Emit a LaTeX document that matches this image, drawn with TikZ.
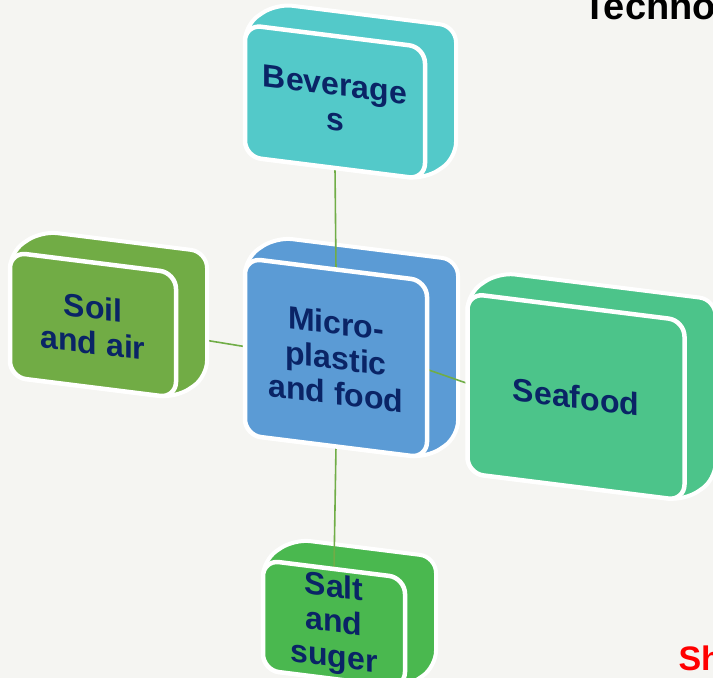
\documentclass[tikz,border=0pt]{standalone}
\usepackage{fontspec}
\setmainfont{Liberation Sans}
\usetikzlibrary{calc,positioning}
\definecolor{lettercolor}{rgb}{0.04,0.14,0.40}
\definecolor{bevcolor}{HTML}{53C9C9}
\definecolor{soilcolor}{HTML}{71AC45}
\definecolor{microcolor}{HTML}{5B9BD5}
\definecolor{seacolor}{HTML}{4CC48A}
\definecolor{saltcolor}{HTML}{4AB84F}
\definecolor{linkcolor}{HTML}{70AD47}
\definecolor{paper}{HTML}{F5F5F2}
\pgfdeclarelayer{backdrop}
\pgfsetlayers{backdrop,main}
\tikzset{
	face/.style={
		rectangle,
		rounded corners=16pt,
		draw=white,
		line width=4.5pt,
		inner sep=0pt,
		outer sep=0pt,
		text=lettercolor,
		font=\bfseries\fontsize{32}{35}\selectfont,
		align=center,
		yslant=-0.125,
		transform shape
	},
	hull/.style={
		draw=white,
		line width=4pt,
		rounded corners=16pt
	},
	link/.style={
		draw=linkcolor,
		line width=1.6pt
	},
}

\begin{document}
\begin{tikzpicture}[x=1pt,y=1pt]
\useasboundingbox (0,0) rectangle (713,-678);
% front faces
\node[face,fill=microcolor,minimum width=182pt,minimum height=177pt] (micro) at (336,-358) {Micro-\\plastic\\and food};
\node[face,fill=bevcolor,minimum width=180pt,minimum height=132pt] (bev) at (335,-102) {Beverage\\s};
\node[face,fill=soilcolor,minimum width=166pt,minimum height=125pt] (soil) at (93,-325) {Soil\\and air};
\node[face,fill=seacolor,minimum width=217pt,minimum height=180pt] (sea) at (576,-397) {Seafood};
\node[face,fill=saltcolor,minimum width=142pt,minimum height=110pt] (salt) at (334,-624) {Salt\\and\\suger};
% cut-off texts of the slide
\node[anchor=base west,font=\bfseries\fontsize{38}{40}\selectfont] (title) at (580,-19) {Techno};
\node[anchor=base west,text=red,font=\bfseries\fontsize{34}{38}\selectfont] (note) at (675,-670) {Sh};
\begin{pgfonlayer}{backdrop}
\fill[paper] (0,0) rectangle (713,-678);
\path[link] (soil.east) -- (micro.west);
\foreach \b/\c in {bev/bevcolor,soil/soilcolor,micro/microcolor,sea/seacolor,salt/saltcolor}
	\path[hull,fill=\c] (\b.south west) -- (\b.north west)
		-- ($(\b.north west)+(31,21)$) -- ($(\b.north east)+(31,21)$)
		-- ($(\b.south east)+(31,21)$) -- (\b.south east) -- cycle;
\path[link] (bev.south) -- (micro.north);
\path[link] (micro.east) -- (sea.west);
\path[link] (micro.south) -- (salt.north);
\end{pgfonlayer}
\end{tikzpicture}
\end{document}
